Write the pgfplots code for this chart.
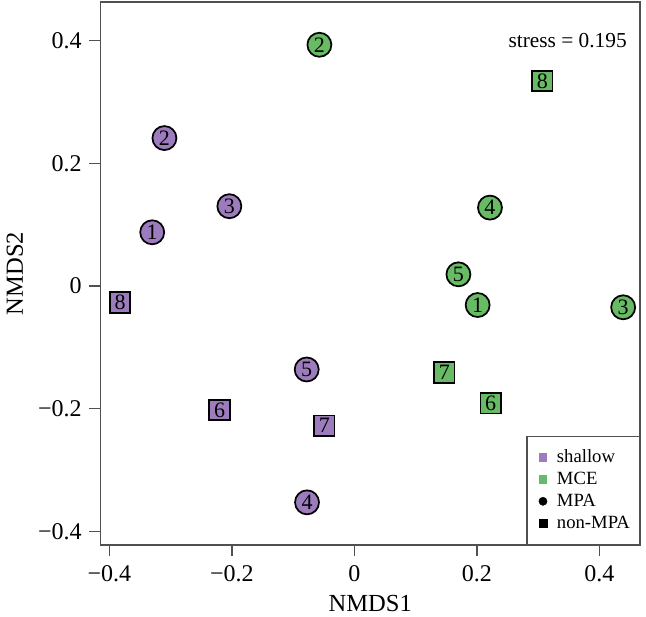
\documentclass[border=0pt]{standalone}
\usepackage{fontspec}
\setmainfont{Liberation Serif}
\usepackage{pgfplots}
\pgfplotsset{compat=1.18}
\definecolor{shal}{RGB}{157,124,190}
\definecolor{mce}{RGB}{104,186,100}
\definecolor{axgray}{RGB}{80,80,80}

\pgfplotstableread{
x y lab
-0.330 0.0875 1
-0.310 0.241 2
-0.204 0.130 3
-0.0772 -0.3525 4
-0.0777 -0.136 5
}\shalMPA
\pgfplotstableread{
x y lab
-0.220 -0.202 6
-0.049 -0.2276 7
-0.3825 -0.027 8
}\shalNon
\pgfplotstableread{
x y lab
0.2014 -0.031 1
-0.057 0.393 2
0.439 -0.0347 3
0.2215 0.1277 4
0.170 0.019 5
}\mceMPA
\pgfplotstableread{
x y lab
0.2227 -0.191 6
0.147 -0.141 7
0.307 0.334 8
}\mceNon

\begin{document}
\begin{tikzpicture}
\begin{axis}[
  scale only axis, width=404.625pt, height=407.25pt,
  xmin=-0.4144, xmax=0.4665, ymin=-0.422, ymax=0.4627,
  clip=false,
  axis line style={axgray, line width=1.1pt},
  tick style={axgray, line width=1.1pt},
  tick align=outside, major tick length=8.25pt, tick pos=left,
  xtick={-0.4,-0.2,0,0.2,0.4}, xticklabels={−0.4,−0.2,0,0.2,0.4},
  ytick={-0.4,-0.2,0,0.2,0.4}, yticklabels={−0.4,−0.2,0,0.2,0.4},
  ticklabel style={font=\fontsize{18}{20}\selectfont, inner sep=0pt, text=black},
  xticklabel style={anchor=north, yshift=-7pt},
  yticklabel style={anchor=east, xshift=-5.65pt},
  xlabel={NMDS1}, ylabel={NMDS2},
  label style={font=\fontsize{18.4}{21}\selectfont, inner sep=0pt},
  xlabel style={at={(axis description cs:0.5,-0.107)}, anchor=center},
  ylabel style={at={(axis description cs:-0.1585,0.5)}, anchor=center},
  legend style={at={(1,0)}, anchor=south east, draw=axgray, line width=1.1pt,
    inner xsep=7pt, inner ysep=9.5pt, column sep=5.5pt, row sep=4pt,
    font=\fontsize{14}{16}\selectfont,
    nodes={inner sep=0pt, text height=10pt, text depth=2.5pt},
    cells={anchor=west}},
  legend image code/.code={\path[draw=none, fill=none] (0pt,-3pt) rectangle (10pt,3pt); \draw[#1, line width=0.3pt] plot coordinates {(5pt,0pt)};},
  pts/.style={only marks, nodes near coords, point meta=explicit symbolic,
    nodes near coords style={anchor=center, inner sep=0pt, text=black, font=\fontsize{16.5}{18}\selectfont},
    forget plot},
]
\addlegendimage{only marks, mark=square*, color=shal, mark size=2.7pt}
\addlegendentry{shallow}
\addlegendimage{only marks, mark=square*, color=mce, mark size=2.7pt}
\addlegendentry{MCE}
\addlegendimage{only marks, mark=*, color=black, mark size=3.1pt}
\addlegendentry{MPA}
\addlegendimage{only marks, mark=square*, color=black, mark size=3pt}
\addlegendentry{non-MPA}

\addplot[pts, mark=*, mark size=9pt, mark options={fill=shal, draw=black, line width=1.3pt}] table[meta=lab] {\shalMPA};
\addplot[pts, mark=square*, mark size=7.7pt, mark options={fill=shal, draw=black, line width=1.3pt}] table[meta=lab] {\shalNon};
\addplot[pts, mark=*, mark size=9pt, mark options={fill=mce, draw=black, line width=1.3pt}] table[meta=lab] {\mceMPA};
\addplot[pts, mark=square*, mark size=7.7pt, mark options={fill=mce, draw=black, line width=1.3pt}] table[meta=lab] {\mceNon};

\node[anchor=east, inner sep=0pt, font=\fontsize{16}{18}\selectfont] at (axis cs:0.4452,0.4) {stress = 0.195};
\end{axis}
\pgfresetboundingbox
\path ([shift={(-75.375pt,-53.25pt)}]current axis.south west) rectangle ([shift={(4.5pt,1.5pt)}]current axis.north east);
\end{tikzpicture}
\end{document}
